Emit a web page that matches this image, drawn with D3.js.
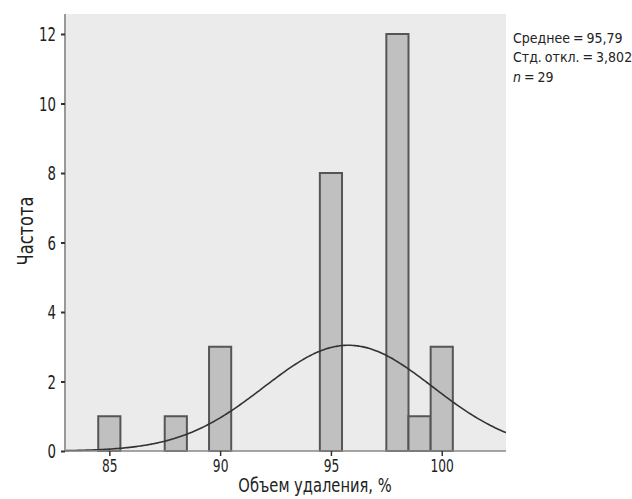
<!DOCTYPE html>
<html><head><meta charset="utf-8">
<script src="https://cdn.jsdelivr.net/npm/d3@7"></script>
<style>
body{margin:0;background:#fff;}
text{font-family:"DejaVu Sans Condensed","DejaVu Sans",sans-serif;fill:#222;}
</style></head><body>
<svg id="c" width="632" height="499"></svg>
<script>
const binCenters = [85, 88, 90, 95, 98, 99, 100];
const counts = [1, 1, 3, 8, 12, 1, 3];
const xTicks = [85, 90, 95, 100];
const yTicks = [0, 2, 4, 6, 8, 10, 12];
const mean = 95.79, sd = 3.802, n = 29, binWidth = 1;
const statLines = ["Среднее = 95,79", "Стд. откл. = 3,802", "n = 29"];

const svg = d3.select("#c");
const L = 65, R = 506, T = 14, B = 451;
const x = d3.scaleLinear().domain([83, 102.9]).range([L, R]);
const y = d3.scaleLinear().domain([0, 12]).range([B, 34]);

function condense(sel, k) {
  sel.each(function () {
    const t = d3.select(this);
    const x0 = +(t.attr("x") || 0), y0 = +(t.attr("y") || 0);
    t.attr("x", 0).attr("y", 0).attr("transform", `translate(${x0},${y0}) scale(${k},1)`);
  });
}

svg.append("rect").attr("x", L).attr("y", T).attr("width", R - L).attr("height", B - T).attr("fill", "#ebebeb");

svg.selectAll(".bar").data(binCenters).enter().append("rect")
  .attr("x", d => x(d - binWidth / 2))
  .attr("width", d => x(d + binWidth / 2) - x(d - binWidth / 2))
  .attr("y", (d, i) => y(counts[i]))
  .attr("height", (d, i) => y(0) - y(counts[i]))
  .attr("fill", "#c0c0c0").attr("stroke", "#555").attr("stroke-width", 2);

const pts = d3.range(83, 102.91, 0.1).map(v => [v, n * binWidth / (sd * Math.sqrt(2 * Math.PI)) * Math.exp(-0.5 * ((v - mean) / sd) ** 2)]);
svg.append("path").datum(pts)
  .attr("d", d3.line().x(d => x(d[0])).y(d => y(d[1])).curve(d3.curveBasis))
  .attr("fill", "none").attr("stroke", "#333").attr("stroke-width", 1.6);

const yAxis = svg.append("g").attr("transform", `translate(${L},0)`)
  .call(d3.axisLeft(y).tickValues(yTicks).tickSize(4).tickPadding(5).tickFormat(d3.format("d")));
yAxis.select(".domain").attr("stroke", "#999").attr("stroke-width", 2).attr("d", `M0,${T}V${B}`);
yAxis.selectAll(".tick line").attr("stroke", "#333").attr("stroke-width", 2);
yAxis.selectAll("text").style("font-size", "19px").attr("fill", "#222").attr("dy", "0.36em");
condense(yAxis.selectAll("text"), 0.78);

const xAxis = svg.append("g").attr("transform", `translate(0,${B})`)
  .call(d3.axisBottom(x).tickValues(xTicks).tickSize(5).tickPadding(3));
xAxis.select(".domain").attr("stroke", "#888").attr("stroke-width", 1.5).attr("d", `M${L},0H${R}`);
xAxis.selectAll(".tick line").attr("stroke", "#333").attr("stroke-width", 1.5);
xAxis.selectAll("text").style("font-size", "17px").attr("fill", "#222").attr("dy", null).attr("y", 21);
condense(xAxis.selectAll("text"), 0.8);

const xt = svg.append("text").attr("x", 315).attr("y", 492).attr("text-anchor", "middle")
  .style("font-size", "19px").text("Объем удаления, %");
condense(xt, 0.86);
svg.append("text").attr("transform", "translate(33,231) rotate(-90) scale(0.86,1)").attr("text-anchor", "middle")
  .style("font-size", "21px").text("Частота");

statLines.forEach((s, i) => {
  const t = svg.append("text").attr("x", 513).attr("y", 43 + i * 19.3)
    .style("font-size", "14px").style("word-spacing", "-1px");
  if (s.startsWith("n ")) {
    t.append("tspan").style("font-style", "italic").text("n");
    t.append("tspan").text(s.slice(1));
  } else t.text(s);
});
</script></body></html>
